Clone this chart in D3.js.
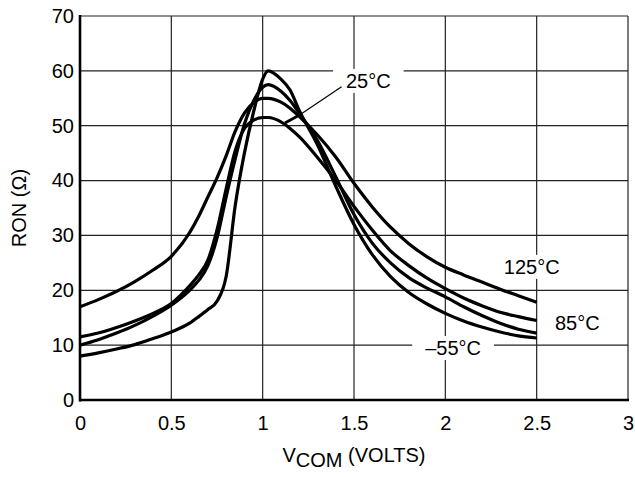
<!DOCTYPE html>
<html>
<head>
<meta charset="utf-8">
<script src="https://cdn.jsdelivr.net/npm/d3@7"></script>
<style>
  body { margin: 0; background: #fff; }
  svg text { font-family: "Liberation Sans", Arial, sans-serif; fill: #000; }
</style>
</head>
<body>
<svg id="chart" width="635" height="477"></svg>
<script>
// V_COM sample points (volts), shared by all four curves
const vcom = [0, 0.1, 0.2, 0.3, 0.4, 0.5, 0.6, 0.65, 0.7, 0.75, 0.8, 0.85, 0.9, 0.95,
              1.0, 1.03, 1.1, 1.15, 1.2, 1.3, 1.4, 1.5, 1.6, 1.7, 1.8, 1.9, 2.0,
              2.1, 2.2, 2.3, 2.4, 2.5];

// RON (ohms)
const ron125 = [17, 18.3, 19.8, 21.6, 23.7, 26.2, 30.5, 33.5, 37, 40.5, 44.5, 49, 52.3, 54.2,
                55, 55, 54.3, 53.2, 51.7, 48.3, 44.3, 39.5, 35.2, 31.5, 28.5, 26.1, 24.2,
                22.8, 21.5, 20.2, 19, 17.8];
const ron85 = [11.5, 12.2, 13.2, 14.4, 15.8, 17.6, 20.8, 22.8, 25.5, 31, 38.5, 45.5, 49.5, 51,
               51.5, 51.5, 50.7, 49.5, 48, 44.2, 40, 35.3, 31, 27.2, 24.5, 22.2, 20.3,
               18.6, 17.2, 16, 15.2, 14.5];
const ron25 = [10, 11, 12.2, 13.6, 15.3, 17.3, 20, 21.8, 24.5, 29.5, 37, 44, 50.3, 54.5,
               57, 57.5, 56.3, 54.6, 52.3, 47.3, 40.7, 33.8, 28.6, 25, 22.3, 20.4, 18.8,
               17, 15.4, 14, 12.9, 12.2];
const ronM55 = [8, 8.6, 9.3, 10.1, 11.2, 12.4, 14, 15.2, 16.5, 18, 22.5, 35.5, 45, 52.5,
                58.5, 60, 58.5, 56.5, 52.8, 46.5, 39, 32, 26.5, 22.5, 19.6, 17.5, 15.8,
                14.4, 13.3, 12.4, 11.7, 11.3];

const xTicks = [0, 0.5, 1, 1.5, 2, 2.5, 3];
const yTicks = [0, 10, 20, 30, 40, 50, 60, 70];

// temperature labels (text start x, baseline y, in data units)
const labelText = ["25°C", "125°C", "85°C", "–55°C"];
const labelX = [1.456, 2.32, 2.6, 1.89];
const labelY = [56.9, 23.0, 12.8, 8.2];

// leader from the 25°C label to its curve
const leaderX = [1.432, 1.204, 1.122];
const leaderY = [57.1, 52.0, 50.5];

const chart = d3.select("#chart");

const L = 80, R = 628, T = 16, B = 400;

const x = d3.scaleLinear().domain([0, 3]).range([L, R]);
const y = d3.scaleLinear().domain([0, 70]).range([B, T]);

// grid
chart.append("g").selectAll("line")
     .data(xTicks.slice(1))
     .enter().append("line")
     .attr("x1", (d) => x(d)).attr("x2", (d) => x(d))
     .attr("y1", T).attr("y2", B)
     .attr("stroke", "#222").attr("stroke-width", 1.2);

chart.append("g").selectAll("line")
     .data(yTicks.slice(1))
     .enter().append("line")
     .attr("x1", L).attr("x2", R)
     .attr("y1", (d) => y(d)).attr("y2", (d) => y(d))
     .attr("stroke", "#222").attr("stroke-width", 1.2);

// axes (labels only)
const xAxis = chart.append("g")
     .attr("transform", `translate(0,${B})`)
     .call(d3.axisBottom(x).tickValues(xTicks).tickSize(0).tickPadding(16)
             .tickFormat(d3.format("")));
const yAxis = chart.append("g")
     .attr("transform", `translate(${L},0)`)
     .call(d3.axisLeft(y).tickValues(yTicks).tickSize(0).tickPadding(6));

[xAxis, yAxis].forEach((a) => {
    a.select(".domain").remove();
    a.selectAll("text").style("font-size", "20px")
     .style("font-family", "'Liberation Sans', Arial, sans-serif");
});

// heavy left & bottom axis lines
chart.append("line").attr("x1", L).attr("x2", L).attr("y1", T - 1).attr("y2", B + 1.5)
     .attr("stroke", "#000").attr("stroke-width", 2.6);
chart.append("line").attr("x1", L - 1).attr("x2", R + 1).attr("y1", B).attr("y2", B)
     .attr("stroke", "#000").attr("stroke-width", 2.6);

// curves
const series = [ron125, ron85, ron25, ronM55];
const genLine = d3.line()
                  .x((d, i) => x(vcom[i]))
                  .y((d) => y(d))
                  .curve(d3.curveMonotoneX);

chart.append("g").selectAll("path")
     .data(series)
     .enter().append("path")
     .attr("d", genLine)
     .attr("fill", "none")
     .attr("stroke", "#000")
     .attr("stroke-width", 3.2)
     .attr("stroke-linejoin", "round");

// labels with white backing over the grid
const labels = chart.append("g").selectAll("g")
     .data(labelText)
     .enter().append("g");

labels.append("text")
      .attr("x", (d, i) => x(labelX[i]))
      .attr("y", (d, i) => y(labelY[i]))
      .style("font-size", "20px")
      .text((d) => d);

labels.each(function () {
    const g = d3.select(this);
    const bb = g.select("text").node().getBBox();
    g.insert("rect", "text")
     .attr("x", bb.x - 13).attr("y", bb.y - 1)
     .attr("width", bb.width + 26).attr("height", bb.height + 2)
     .attr("fill", "#fff");
});

// leader line
chart.append("line")
     .attr("x1", x(leaderX[0])).attr("y1", y(leaderY[0]))
     .attr("x2", x(leaderX[1])).attr("y2", y(leaderY[1]))
     .attr("stroke", "#000").attr("stroke-width", 1.2);
chart.append("line")
     .attr("x1", x(leaderX[1])).attr("y1", y(leaderY[1]))
     .attr("x2", x(leaderX[2])).attr("y2", y(leaderY[2]))
     .attr("stroke", "#000").attr("stroke-width", 3);

// axis titles
chart.append("text")
     .attr("transform", `translate(26,${(T + B) / 2}) rotate(-90)`)
     .attr("text-anchor", "middle")
     .style("font-size", "20px")
     .text("RON (Ω)");

const xt = chart.append("text")
     .attr("x", (L + R) / 2).attr("y", 462)
     .attr("text-anchor", "middle")
     .style("font-size", "20px");
xt.append("tspan").text("V");
xt.append("tspan").attr("dy", 5).text("COM");
xt.append("tspan").attr("dy", -5).text(" (VOLTS)");
</script>
</body>
</html>
